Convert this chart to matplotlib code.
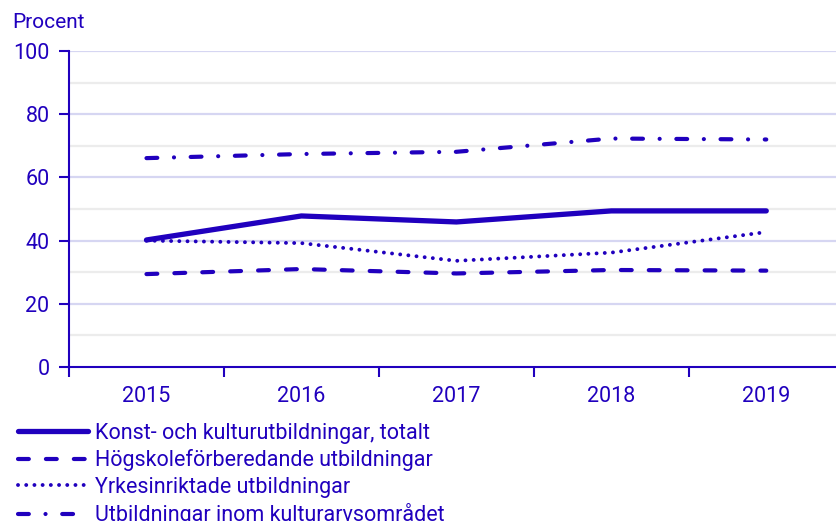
"""Konst- och kulturutbildningar: andel per år, linjediagram."""
import matplotlib
matplotlib.use("Agg")
import matplotlib.pyplot as plt
from matplotlib.lines import Line2D

ar = ["2015", "2016", "2017", "2018", "2019"]
totalt = [40.2, 47.8, 45.9, 49.4, 49.4]
hogskolef = [29.4, 31.0, 29.6, 30.7, 30.5]
yrkesinr = [40.0, 39.2, 33.6, 36.2, 42.7]
kulturarv = [66.1, 67.4, 68.1, 72.3, 72.0]
namn = ["Konst- och kulturutbildningar, totalt",
        "Högskoleförberedande utbildningar",
        "Yrkesinriktade utbildningar",
        "Utbildningar inom kulturarvsområdet"]

BLA = "#2000BE"
plt.rcParams["font.family"] = ["Roboto", "DejaVu Sans"]

fig = plt.figure(figsize=(8.36, 5.21), dpi=100)
ax = fig.add_axes([69 / 836, 154 / 521, 1 - 69 / 836, 316 / 521])

x = list(range(len(ar)))
stilar = [
    dict(lw=3.8, ls="-"),
    dict(lw=3.0, ls=(0, (2.6, 4.1))),
    dict(lw=2.8, ls=(0, (0.01, 2.1))),
    dict(lw=3.0, ls=(0, (2.6, 4.0, 0.01, 4.0))),
]
serier = [totalt, hogskolef, yrkesinr, kulturarv]
for s, st, lab in zip(serier, stilar, namn):
    ax.plot(x, s, color=BLA, lw=st["lw"], ls=st["ls"], solid_capstyle="round",
            dash_capstyle="round", label=lab, zorder=3)

# rutnät: 20-steg blåaktigt, 10-steg grått
for v in range(10, 100, 10):
    c = "#d6d6f2" if v % 20 == 0 else "#ececec"
    ax.axhline(v, color=c, lw=1.6, zorder=1)
ax.axhline(100, color="#d6d6f2", lw=1.6, zorder=1)

ax.set_yticks(range(0, 101, 20))
ax.tick_params(axis="y", colors=BLA, labelsize=15.5, length=7, width=1.5, pad=7)
ax.set_xticks([i - 0.5 for i in range(len(ar) + 1)])
ax.set_xticklabels([])
ax.set_xticks(x, minor=True)
ax.set_xticklabels(ar, minor=True)
ax.tick_params(axis="x", which="major", colors=BLA, length=7, width=1.5, direction="out")
ax.tick_params(axis="x", which="minor", colors=BLA, labelsize=15.5, length=0, pad=14)

# gränser efter tickarna (set_xticks vidgar annars vyn)
ax.set_xlim(-0.5, 4.45)
ax.set_ylim(0, 100)

for sp in ["top", "right"]:
    ax.spines[sp].set_visible(False)
for sp in ["left", "bottom"]:
    ax.spines[sp].set_color(BLA)
    ax.spines[sp].set_linewidth(1.5)

fig.text(12 / 836, 1 - 22 / 521, "Procent", color=BLA, fontsize=15, va="center", ha="left")

handles = [Line2D([0], [0], color=BLA, lw=st["lw"], ls=st["ls"], solid_capstyle="round",
                  dash_capstyle="round") for st in stilar]
leg = fig.legend(handles, namn, loc="upper left", bbox_to_anchor=(18 / 836, 1 - 423 / 521),
                 frameon=False, fontsize=15.5, handlelength=3.25, handletextpad=0.33,
                 labelspacing=0.25, borderpad=0, borderaxespad=0)
for t in leg.get_texts():
    t.set_color(BLA)

fig.savefig("out.png", dpi=100)
